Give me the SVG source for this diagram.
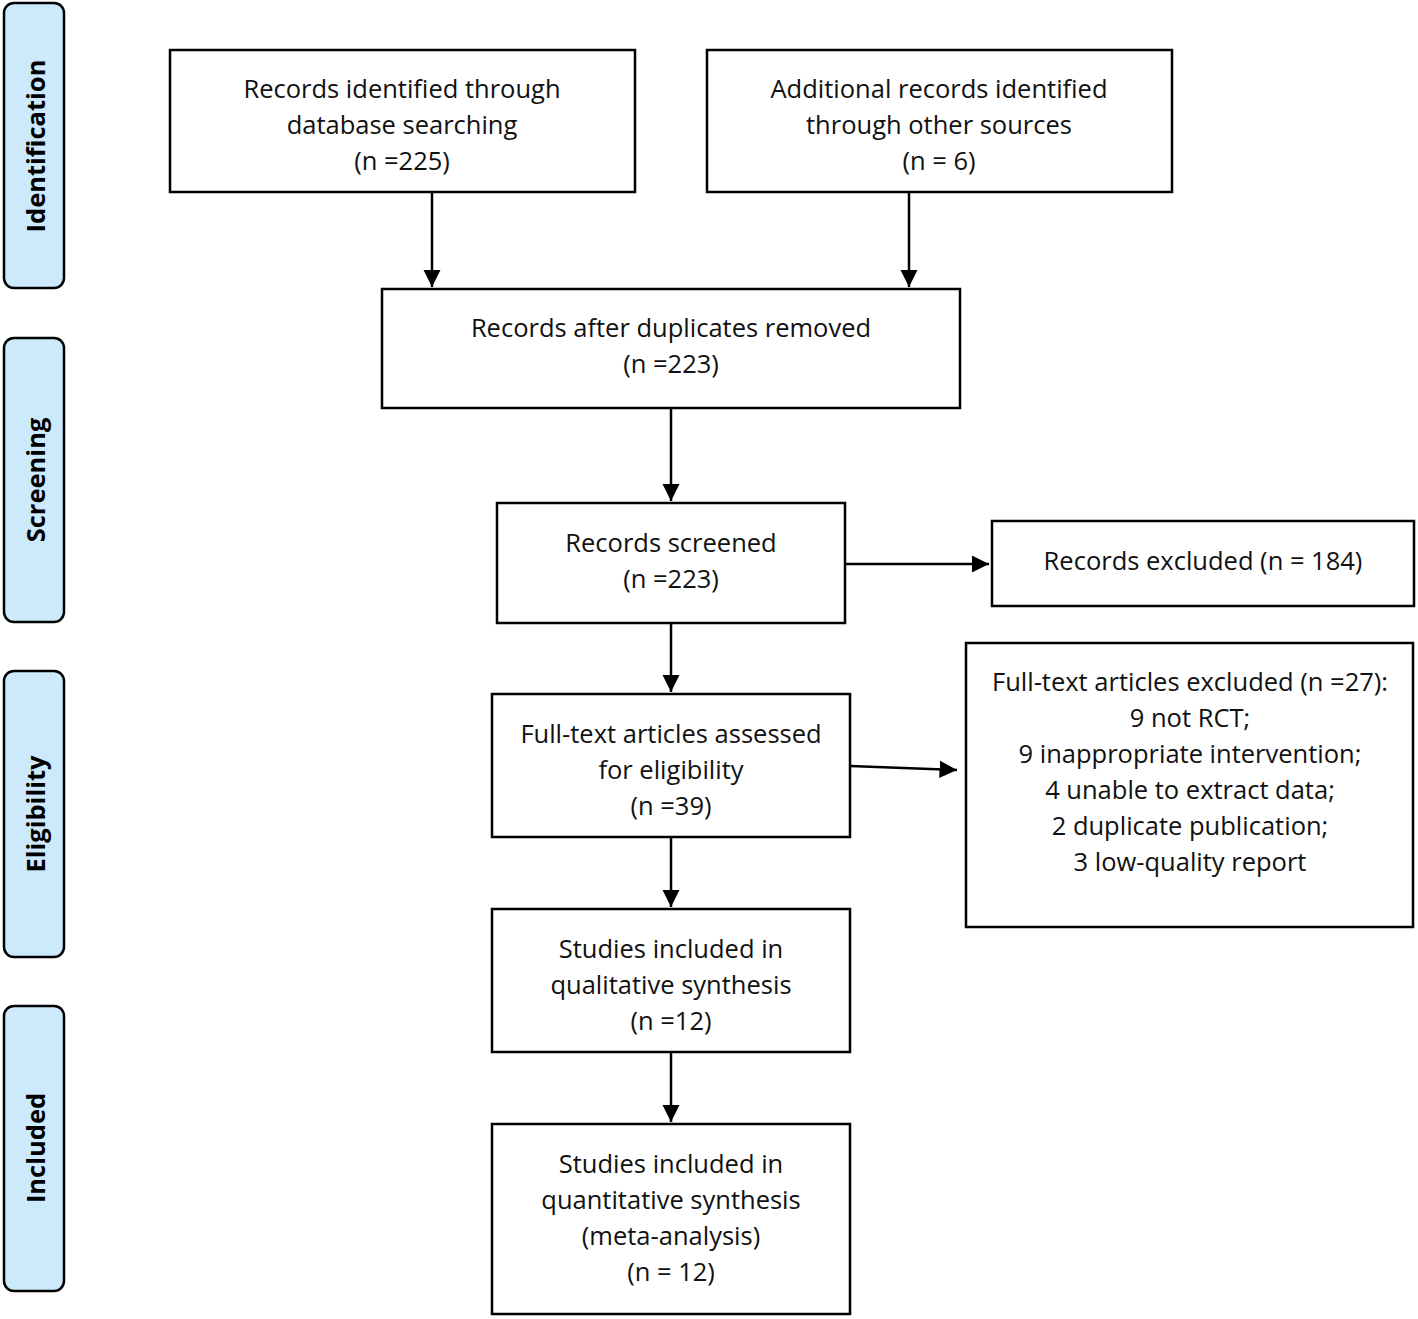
<svg xmlns="http://www.w3.org/2000/svg" width="1418" height="1319" viewBox="0 0 1418 1319">
<style>
.box{fill:#fff;stroke:#000;stroke-width:2.5}
.side{fill:#cdeafd;stroke:#000;stroke-width:2.5}
.t{font-family:"Open Sans","Liberation Sans",sans-serif;font-size:25.5px;fill:#111;text-anchor:middle;dominant-baseline:central}
.s{font-family:"Open Sans","Liberation Sans",sans-serif;font-size:25.5px;font-weight:bold;fill:#000;text-anchor:middle;dominant-baseline:central}
.c{stroke:#000;stroke-width:2.5;fill:none;marker-end:url(#ah)}
</style>
<defs>
<marker id="ah" markerWidth="8" markerHeight="8" refX="7" refY="3.5" orient="auto" markerUnits="strokeWidth">
<path d="M0,0 L7,3.5 L0,7 z" fill="#000"/>
</marker>
</defs>
<rect width="1418" height="1319" fill="#fff"/>
<g id="side-identification"><rect class="side" x="4" y="3" width="60" height="285" rx="10"/><text class="s" transform="translate(35,146) rotate(-90)">Identification</text></g>
<g id="side-screening"><rect class="side" x="4" y="338" width="60" height="284" rx="10"/><text class="s" transform="translate(35,480) rotate(-90)">Screening</text></g>
<g id="side-eligibility"><rect class="side" x="4" y="671" width="60" height="286" rx="10"/><text class="s" transform="translate(35,814) rotate(-90)">Eligibility</text></g>
<g id="side-included"><rect class="side" x="4" y="1006" width="60" height="285" rx="10"/><text class="s" transform="translate(35,1148) rotate(-90)">Included</text></g>

<g id="n1"><rect class="box" x="170" y="50" width="465" height="142"/><text class="t" x="402" y="88">Records identified through</text><text class="t" x="402" y="124">database searching</text><text class="t" x="402" y="160">(n =225)</text></g>
<g id="n2"><rect class="box" x="707" y="50" width="465" height="142"/><text class="t" x="939" y="88">Additional records identified</text><text class="t" x="939" y="124">through other sources</text><text class="t" x="939" y="160">(n = 6)</text></g>
<g id="n3"><rect class="box" x="382" y="289" width="578" height="119"/><text class="t" x="671" y="327">Records after duplicates removed</text><text class="t" x="671" y="363">(n =223)</text></g>
<g id="n4"><rect class="box" x="497" y="503" width="348" height="120"/><text class="t" x="671" y="542">Records screened</text><text class="t" x="671" y="578">(n =223)</text></g>
<g id="n5"><rect class="box" x="992" y="521" width="422" height="85"/><text class="t" x="1203" y="560">Records excluded (n = 184)</text></g>
<g id="n6"><rect class="box" x="492" y="694" width="358" height="143"/><text class="t" x="671" y="733">Full-text articles assessed</text><text class="t" x="671" y="769">for eligibility</text><text class="t" x="671" y="805">(n =39)</text></g>
<g id="n7"><rect class="box" x="966" y="643" width="447" height="284"/><text class="t" x="1190" y="681">Full-text articles excluded (n =27):</text><text class="t" x="1190" y="717">9 not RCT;</text><text class="t" x="1190" y="753">9 inappropriate intervention;</text><text class="t" x="1190" y="789">4 unable to extract data;</text><text class="t" x="1190" y="825">2 duplicate publication;</text><text class="t" x="1190" y="861">3 low-quality report</text></g>
<g id="n8"><rect class="box" x="492" y="909" width="358" height="143"/><text class="t" x="671" y="948">Studies included in</text><text class="t" x="671" y="984">qualitative synthesis</text><text class="t" x="671" y="1020">(n =12)</text></g>
<g id="n9"><rect class="box" x="492" y="1124" width="358" height="190"/><text class="t" x="671" y="1163">Studies included in</text><text class="t" x="671" y="1199">quantitative synthesis</text><text class="t" x="671" y="1235">(meta-analysis)</text><text class="t" x="671" y="1271">(n = 12)</text></g>

<g id="connectors">
<path class="c" d="M432,192 V287"/>
<path class="c" d="M909,192 V287"/>
<path class="c" d="M671,408 V501"/>
<path class="c" d="M845,564 H989"/>
<path class="c" d="M671,623 V692"/>
<path class="c" d="M850,766 L957,770"/>
<path class="c" d="M671,837 V907"/>
<path class="c" d="M671,1052 V1122"/>
</g>
</svg>
